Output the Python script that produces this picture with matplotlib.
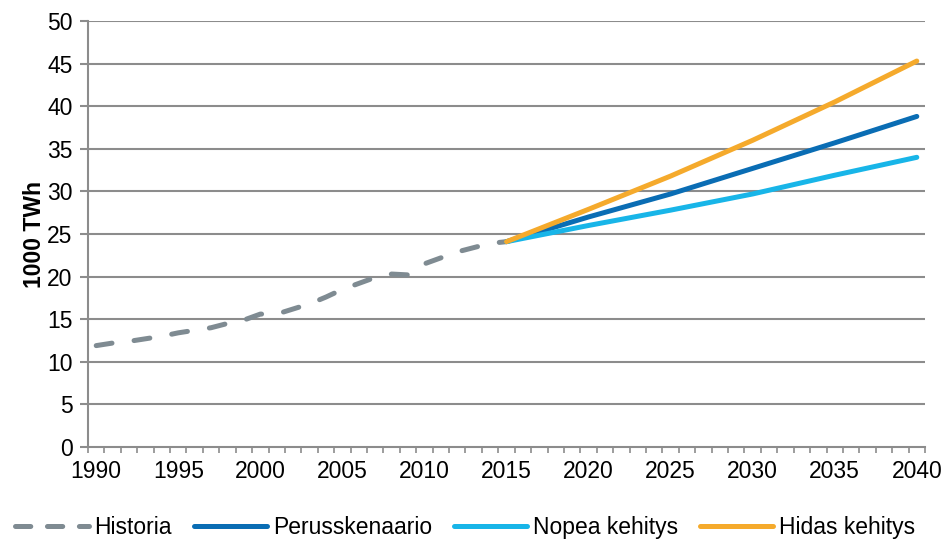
import matplotlib
matplotlib.use("Agg")
import matplotlib.pyplot as plt
from matplotlib.lines import Line2D
import numpy as np

# Electricity demand, 1000 TWh
hist_years = list(range(1990, 2016))
historia = [11.9, 12.2, 12.4, 12.7, 13.0, 13.4, 13.7, 14.0, 14.5, 14.9,
            15.6, 15.6, 16.2, 16.8, 17.6, 18.5, 19.2, 19.9, 20.3, 20.2,
            21.5, 22.2, 22.9, 23.4, 23.9, 24.1]

proj_years = [2015, 2020, 2025, 2030, 2035, 2040]
perusskenaario = [24.1, 27.0, 29.7, 32.7, 35.7, 38.8]
nopea_kehitys = [24.1, 26.0, 27.8, 29.7, 31.9, 34.0]
hidas_kehitys = [24.1, 27.9, 31.8, 36.0, 40.5, 45.3]

series_labels = ["Historia", "Perusskenaario", "Nopea kehitys", "Hidas kehitys"]
y_label = "1000 TWh"
x_tick_years = list(range(1990, 2041, 5))
y_ticks = list(range(0, 51, 5))

c_hist = "#7f8b92"
c_perus = "#0a6db4"
c_nopea = "#18b5e8"
c_hidas = "#f5aa2c"
c_grid = "#8c8c8c"

plt.rcParams["font.family"] = ["Liberation Sans", "DejaVu Sans"]
plt.rcParams["lines.scale_dashes"] = False

fs = 16.5

fig = plt.figure(figsize=(9.49, 5.42), dpi=100)
ax = fig.add_axes([88 / 949, 1 - 447 / 542, (925 - 88) / 949, (447 - 21) / 542])

lw = 3.6
dash = (11.5, 16.0)
ax.plot(hist_years, historia, color=c_hist, lw=lw, dashes=dash,
        solid_capstyle="round", dash_capstyle="round", zorder=3)
ax.plot(proj_years, perusskenaario, color=c_perus, lw=lw,
        solid_capstyle="round", zorder=4)
ax.plot(proj_years, nopea_kehitys, color=c_nopea, lw=lw,
        solid_capstyle="round", zorder=4)
ax.plot(proj_years, hidas_kehitys, color=c_hidas, lw=lw,
        solid_capstyle="round", zorder=5)

ax.set_xlim(1989.5, 2040.5)
ax.set_ylim(0, 50)

# horizontal gridlines
for v in y_ticks[1:]:
    ax.axhline(v, color=c_grid, lw=1.5, zorder=1)

for s in ["top", "right"]:
    ax.spines[s].set_visible(False)
for s in ["left", "bottom"]:
    ax.spines[s].set_color(c_grid)
    ax.spines[s].set_linewidth(1.5)

ax.set_yticks(y_ticks)
ax.set_yticklabels([str(v) for v in y_ticks])
ax.tick_params(axis="y", direction="out", length=6, width=1.5, color=c_grid,
               pad=5, labelsize=fs, labelcolor="black")

ax.set_xticks(x_tick_years)
ax.set_xticklabels([str(v) for v in x_tick_years])
ax.set_xticks(np.arange(1989.5, 2041, 1.0), minor=True)
ax.tick_params(axis="x", which="major", length=0, pad=9,
               labelsize=fs, labelcolor="black")
ax.tick_params(axis="x", which="minor", direction="out", length=4.5,
               width=1.2, color=c_grid)

ax.set_ylabel(y_label, fontsize=fs, fontweight="bold", labelpad=1)

handles = [
    Line2D([], [], color=c_hist, lw=lw, dashes=(11.0, 12.0), dash_capstyle="round"),
    Line2D([], [], color=c_perus, lw=lw, solid_capstyle="round"),
    Line2D([], [], color=c_nopea, lw=lw, solid_capstyle="round"),
    Line2D([], [], color=c_hidas, lw=lw, solid_capstyle="round"),
]
fig.legend(handles, series_labels, loc="center", bbox_to_anchor=(0.49, 0.026),
           ncol=4, frameon=False, fontsize=fs, handlelength=3.2,
           handletextpad=0.25, columnspacing=0.95)

fig.savefig("out.png", dpi=100)
